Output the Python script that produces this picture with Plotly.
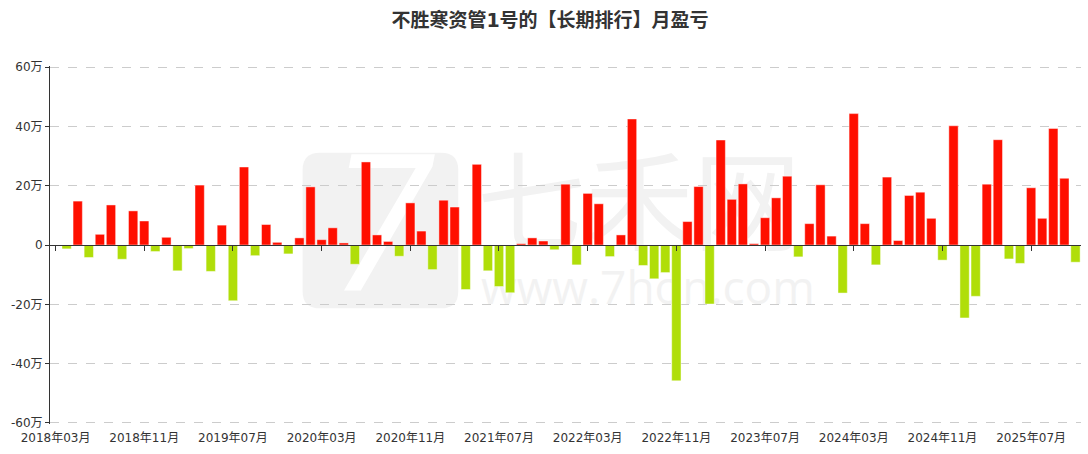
import plotly.graph_objects as go

title = "不胜寒资管1号的【长期排行】月盈亏"

months = [f"{y}年{m:02d}月" for y in range(2018, 2026) for m in range(1, 13)]
months = months[months.index("2018年03月"):months.index("2025年11月") + 1]

# monthly profit / loss, unit: 万
pnl = [
    0, -1.3, 14.8, -4.2, 3.6, 13.5, -4.8, 11.5, 8.1, -2.2,
    2.6, -8.7, -1.2, 20.2, -8.9, 6.7, -18.8, 26.3, -3.6, 6.9,
    0.9, -3.0, 2.4, 19.6, 1.8, 5.8, 0.7, -6.5, 28.0, 3.4,
    1.2, -3.8, 14.2, 4.7, -8.3, 15.1, 12.8, -15.0, 27.2, -8.7,
    -14.0, -16.1, 0.45, 2.4, 1.35, -1.6, 20.5, -6.7, 17.4, 13.9,
    -3.9, 3.4, 42.5, -6.9, -11.4, -9.3, -45.8, 7.9, 19.7, -19.9,
    35.4, 15.4, 20.6, 0.45, 9.2, 15.9, 23.2, -4.0, 7.2, 20.3,
    3.0, -16.2, 44.3, 7.2, -6.7, 22.9, 1.5, 16.7, 17.8, 9.0,
    -5.1, 40.2, -24.6, -17.3, 20.5, 35.5, -4.7, -6.2, 19.3, 9.0,
    39.3, 22.5, -5.8,
]

tick_months = months[::8]
y_ticks = [-60, -40, -20, 0, 20, 40, 60]
y_ticktext = [f"{v}万" if v != 0 else "0" for v in y_ticks]

RED = "#FF0F00"
GREEN = "#B0DE09"
colors = [RED if v >= 0 else GREEN for v in pnl]

FONT = "DejaVu Sans, Noto Sans CJK SC, sans-serif"

fig = go.Figure()
fig.add_trace(go.Bar(
    x=months, y=pnl,
    marker=dict(color=colors, line=dict(color="rgba(255,255,255,0.45)", width=1)),
    showlegend=False,
    hovertemplate="%{x}<br>%{y}万<extra></extra>",
))
# helper trace so the zero-line axis (with tick marks) is drawn
fig.add_trace(go.Scatter(
    x=months, y=[None] * len(months), xaxis="x2", yaxis="y",
    mode="lines", showlegend=False, hoverinfo="skip",
))

wm = "#f2f2f2"
fig.update_layout(
    width=1088, height=454,
    margin=dict(l=50, r=7, t=66, b=30, autoexpand=False),
    paper_bgcolor="white", plot_bgcolor="white",
    font=dict(family=FONT, color="#333", size=12),
    title=dict(text=f"<b>{title}</b>", x=550 / 1088, xanchor="center", y=1 - 20 / 454, yanchor="middle",
               font=dict(size=19, color="#333", family="DejaVu Sans, Noto Sans CJK SC")),
    bargap=0.16,
    xaxis=dict(
        type="category", categoryorder="array", categoryarray=months,
        tickmode="array", tickvals=tick_months, ticktext=tick_months,
        showgrid=False, showline=False, ticks="", zeroline=False, automargin=False,
        tickfont=dict(size=12, color="#333"), ticklabelstandoff=5,
    ),
    xaxis2=dict(
        type="category", categoryorder="array", categoryarray=months,
        overlaying="x", matches="x", anchor="free", position=0.5, side="bottom",
        tickmode="array", tickvals=tick_months, showticklabels=False,
        ticks="outside", ticklen=5, tickcolor="#333", tickwidth=1, automargin=False,
        showline=True, linecolor="#333", linewidth=1, showgrid=False,
    ),
    yaxis=dict(
        range=[-60.35, 60.35], tickmode="array", tickvals=y_ticks, ticktext=y_ticktext,
        showgrid=True, gridcolor="#cccccc", griddash="dash", gridwidth=1,
        zeroline=False, showline=True, linecolor="#333", linewidth=1,
        ticks="outside", ticklen=4, tickcolor="#333", automargin=False,
        tickfont=dict(size=12, color="#333"),
    ),
    shapes=[
        dict(type="path", xref="paper", yref="paper", layer="below",
             path="M 0.262,0.758 L 0.379,0.758 Q 0.396,0.758 0.396,0.71 L 0.396,0.371 "
                  "Q 0.396,0.323 0.379,0.323 L 0.262,0.323 Q 0.245,0.323 0.245,0.371 "
                  "L 0.245,0.71 Q 0.245,0.758 0.262,0.758 Z",
             fillcolor="#f2f2f2", line=dict(width=0),
             label=dict(text="<i>7</i>", font=dict(size=190, color="white", family="Open Sans"),
                        textposition="middle center")),
        dict(type="rect", xref="paper", yref="paper", layer="below",
             x0=0.415, x1=0.728, y0=0.429, y1=0.758, line=dict(width=0),
             label=dict(text="七禾网", font=dict(size=108, color=wm, family="Noto Sans CJK SC"),
                        textposition="middle center")),
        dict(type="rect", xref="paper", yref="paper", layer="below",
             x0=0.432, x1=0.728, y0=0.331, y1=0.421, line=dict(width=0),
             label=dict(text="www.7hon.com", font=dict(size=46, color=wm, family="Open Sans"),
                        textposition="middle center")),
    ],
)

fig.write_html("out.html", config={"displayModeBar": False},
               post_script="document.body.style.margin='0';")
